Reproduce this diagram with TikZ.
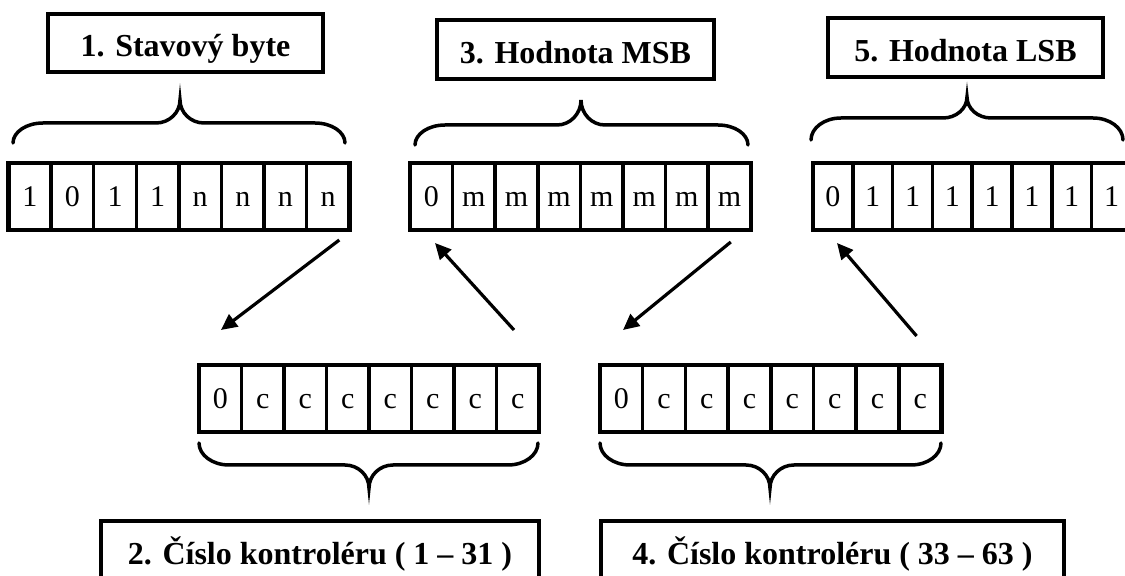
\documentclass[tikz,border=0pt]{standalone}
\usepackage{fontspec}
\setmainfont{Liberation Serif}
\usetikzlibrary{arrows.meta}
\tikzset{
  cell/.style={draw, line width=1.75pt, inner sep=0pt, outer sep=0pt,
    minimum height=33.5pt, font=\fontsize{15}{18}\selectfont,
    text height=12pt, text depth=2pt},
  regframe/.style={draw, line width=2.25pt},
  labelbox/.style={draw, line width=1.75pt, inner sep=0pt,
    font=\bfseries\fontsize{16}{19}\selectfont, text height=18pt, text depth=4pt},
  curly/.style={line width=1.75pt, line cap=round},
  conn/.style={line width=1.6pt, -{Triangle[length=8pt,width=7.5pt]}},
}
% #1 name, #2 left x, #3 top y, #4 cell width, #5 bits
\newcommand\bitrow[5]{%
  \foreach \b [count=\i] in {#5} {
    \node[cell, minimum width={#4*0.5pt}, anchor=north west] (#1-\i) at ({#2+(\i-1)*#4},#3) {\b};
  }
  \draw[regframe] (#1-1.north west) rectangle (#1-8.south east);
}
% #1 x0, #2 x1, #3 end y, #4 flat y, #5 tip x, #6 tip y, #7 end radius, #8 tip radius
\newcommand\curlybr[8]{%
  \draw[curly] (#1,#3) .. controls (#1,{#3-0.552*(#3-#4)}) and ({#1+0.448*#7},#4) .. ({#1+#7},#4)
    -- ({#5-#8},#4) .. controls ({#5-#8+0.552*#8},#4) and (#5,{#6+0.552*(#4-#6)}) .. (#5,#6)
    .. controls (#5,{#6+0.552*(#4-#6)}) and ({#5+#8-0.552*#8},#4) .. ({#5+#8},#4)
    -- ({#2-#7},#4) .. controls ({#2-0.448*#7},#4) and (#2,{#3-0.552*(#3-#4)}) .. (#2,#3);
}
\begin{document}
\begin{tikzpicture}[x=0.5pt,y=-0.5pt]
\useasboundingbox (0,0) rectangle (1125,576);
\clip (0,0) rectangle (1125,576);

% registers
\bitrow{A}{8.5}{163}{42.6}{1,0,1,1,n,n,n,n}
\bitrow{B}{410}{163}{42.6}{0,m,m,m,m,m,m,m}
\bitrow{C}{813}{163}{39.8}{0,1,1,1,1,1,1,1}
\bitrow{D}{199}{365}{42.5}{0,c,c,c,c,c,c,c}
\bitrow{E}{600}{365}{42.7}{0,c,c,c,c,c,c,c}

% labels
\node[labelbox, minimum width=137.5pt, minimum height=29pt]   (L1) at (185.5,43)   {1. Stavový byte};
\node[labelbox, minimum width=138.5pt, minimum height=29.5pt] (L3) at (575.5,49.5) {3. Hodnota MSB};
\node[labelbox, minimum width=137.5pt, minimum height=29.5pt] (L5) at (965.5,47.5) {5. Hodnota LSB};
\node[labelbox, minimum width=219pt,   minimum height=29.5pt] (L2) at (320,550.5)  {2. Číslo kontroléru ( 1 – 31 )};
\node[labelbox, minimum width=231.5pt, minimum height=29.5pt] (L4) at (832.5,550.5){4. Číslo kontroléru ( 33 – 63 )};

% braces
\curlybr{13}{345}{143}{123}{180}{100}{30}{24}
\curlybr{415}{748}{145}{125}{581}{100}{30}{24}
\curlybr{811}{1123}{140}{118}{967}{97}{30}{24}
\curlybr{199}{538}{443}{465}{369}{488}{30}{24}
\curlybr{600}{941}{443}{465}{770}{488}{30}{24}

% connectors
\draw[conn] ([shift={(-10,10)}]A-8.south east) -- ([shift={(22,-35)}]D-1.north west);
\draw[conn] ([shift={(-25,-35)}]D-8.north east) -- ([shift={(25,13)}]B-1.south west);
\draw[conn] ([shift={(-20,12)}]B-8.south east) -- ([shift={(23,-35)}]E-1.north west);
\draw[conn] ([shift={(-25,-29)}]E-8.north east) -- ([shift={(24,13)}]C-1.south west);
\end{tikzpicture}
\end{document}
